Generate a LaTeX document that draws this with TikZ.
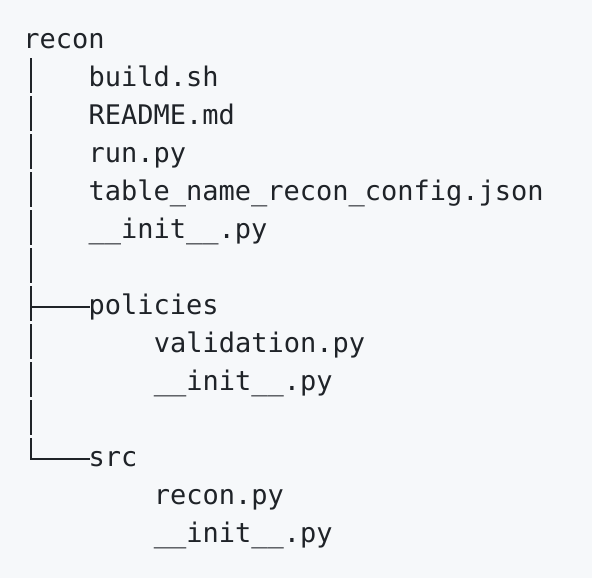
\documentclass[tikz,border=0pt]{standalone}
\usepackage{fontspec}
\newfontfamily\treefont{DejaVu Sans Mono}
\definecolor{codebg}{HTML}{F6F8FA}
\definecolor{codefg}{HTML}{1F2328}

\begin{document}
\begin{tikzpicture}[x=0.5pt, y=-0.5pt, line join=round,
    entry/.style={anchor=base west, inner sep=0pt, text height=10pt, text depth=3pt,
      text=codefg, font=\treefont\fontsize{13.5pt}{19pt}\selectfont},
    branch/.style={draw=codefg, line width=1.3pt}]

    % Background
    \useasboundingbox (0,0) rectangle (592,578);
    \fill[codebg] (0,0) rectangle (592,578);

    % Root folder and its files
    \node[entry] (recon)      at (23, 48)    {recon};
    \node[entry] (buildsh)    at (88.2, 86)  {build.sh};
    \node[entry] (readme)     at (88.2, 124) {README.md};
    \node[entry] (runpy)      at (88.2, 162) {run.py};
    \node[entry] (config)     at (88.2, 200) {table\_name\_recon\_config.json};
    \node[entry] (initroot)   at (88.2, 238) {\_\_init\_\_.py};

    % Sub folder policies
    \node[entry] (policies)   at (88.2, 314) {policies};
    \node[entry] (validation) at (153.4, 352) {validation.py};
    \node[entry] (initpol)    at (153.4, 390) {\_\_init\_\_.py};

    % Sub folder src
    \node[entry] (src)        at (88.2, 466) {src};
    \node[entry] (reconpy)    at (153.4, 504) {recon.py};
    \node[entry] (initsrc)    at (153.4, 542) {\_\_init\_\_.py};

    % Tree lines
    \coordinate (trunk) at (31, 58);
    \draw[branch, dash pattern=on 17.5pt off 1.5pt] (trunk) -- (trunk |- src.west);
    \draw[branch, line cap=rect] (trunk |- policies.west) -- (policies.west);
    \draw[branch, line cap=rect] (trunk |- src.west) -- (src.west);

\end{tikzpicture}
\end{document}
